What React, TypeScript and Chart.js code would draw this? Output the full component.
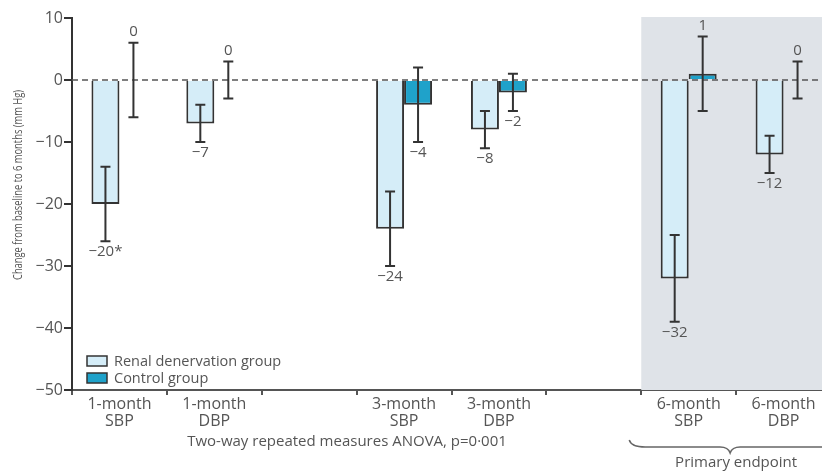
import React, { useEffect, useRef } from "react";
import { Chart, registerables } from "chart.js";

Chart.register(...registerables);

const categories: (string | string[])[] = [
  ["1-month", "SBP"],
  ["1-month", "DBP"],
  "",
  ["3-month", "SBP"],
  ["3-month", "DBP"],
  "",
  ["6-month", "SBP"],
  ["6-month", "DBP"],
];
const renalValues = [-20, -7, null, -24, -8, null, -32, -12];
const renalErrors = [6, 3, null, 6, 3, null, 7, 3];
const renalLabels = ["\u221220*", "\u22127", "", "\u221224", "\u22128", "", "\u221232", "\u221212"];
const controlValues = [0, 0, null, -4, -2, null, 1, 0];
const controlErrors = [6, 3, null, 6, 3, null, 6, 3];
const controlLabels = ["0", "0", "", "\u22124", "\u22122", "", "1", "0"];
const yTicks = [10, 0, -10, -20, -30, -40, -50];
const seriesNames = ["Renal denervation group", "Control group"];
const anovaText = "Two-way repeated measures ANOVA, p=0\u00b7001";
const endpointText = "Primary endpoint";
const yTitle = "Change from baseline to 6 months (mm Hg)";

const FONT = "'Open Sans', sans-serif";
const TEXT = "#555555";
const DARK = "#333333";
const RENAL_FILL = "#d5edf8";
const CONTROL_FILL = "#1fa2ca";
const SHADE = "#dfe3e8";

const decorPlugin = {
  id: "decor",
  beforeDatasetsDraw(chart: any) {
    const { ctx, chartArea, scales } = chart;
    const x = scales.x;
    const start = (x.getPixelForValue(5) + x.getPixelForValue(6)) / 2;
    ctx.save();
    ctx.fillStyle = SHADE;
    ctx.fillRect(start, chartArea.top - 1, chart.width - start, chartArea.bottom - chartArea.top + 1);
    ctx.restore();
  },
  afterDatasetsDraw(chart: any) {
    const { ctx, chartArea, scales } = chart;
    const x = scales.x;
    const y = scales.y;
    ctx.save();
    // zero line
    const y0 = y.getPixelForValue(0);
    ctx.strokeStyle = "#555";
    ctx.lineWidth = 1.5;
    ctx.setLineDash([6, 4]);
    ctx.beginPath();
    ctx.moveTo(chartArea.left, y0);
    ctx.lineTo(chart.width, y0);
    ctx.stroke();
    ctx.setLineDash([]);

    // error bars + labels
    const sets = [
      { vals: renalValues, errs: renalErrors, labels: renalLabels },
      { vals: controlValues, errs: controlErrors, labels: controlLabels },
    ];
    sets.forEach((s, di) => {
      const meta = chart.getDatasetMeta(di);
      s.vals.forEach((v: number | null, i: number) => {
        if (v === null || v === undefined) return;
        const e = s.errs[i] as number;
        const bx = meta.data[i].x;
        const yt = y.getPixelForValue(v + e);
        const yb = y.getPixelForValue(v - e);
        ctx.strokeStyle = DARK;
        ctx.lineWidth = 2;
        ctx.beginPath();
        ctx.moveTo(bx, yt);
        ctx.lineTo(bx, yb);
        ctx.moveTo(bx - 5, yt);
        ctx.lineTo(bx + 5, yt);
        ctx.moveTo(bx - 5, yb);
        ctx.lineTo(bx + 5, yb);
        ctx.stroke();
        ctx.fillStyle = TEXT;
        ctx.font = `15px ${FONT}`;
        ctx.textAlign = "center";
        ctx.textBaseline = "middle";
        if (v < 0) ctx.fillText(s.labels[i], bx, yb + 11);
        else ctx.fillText(s.labels[i], bx, yt - 11);
      });
    });

    // legend
    const colors = [RENAL_FILL, CONTROL_FILL];
    seriesNames.forEach((n, i) => {
      const ly = 356 + i * 17;
      ctx.fillStyle = colors[i];
      ctx.fillRect(87, ly, 20, 10);
      ctx.strokeStyle = DARK;
      ctx.lineWidth = 1.5;
      ctx.strokeRect(87, ly, 20, 10);
      ctx.fillStyle = TEXT;
      ctx.font = `14.5px ${FONT}`;
      ctx.textAlign = "left";
      ctx.textBaseline = "middle";
      ctx.fillText(n, 114, ly + 5.5);
    });

    // y title (condensed)
    ctx.save();
    ctx.translate(19, 185);
    ctx.rotate(-Math.PI / 2);
    ctx.font = `12px ${FONT}`;
    const w = ctx.measureText(yTitle).width;
    ctx.scale(190 / w, 1);
    ctx.fillStyle = TEXT;
    ctx.textAlign = "center";
    ctx.textBaseline = "middle";
    ctx.fillText(yTitle, 0, 0);
    ctx.restore();

    // anova text
    ctx.font = `15px ${FONT}`;
    ctx.fillStyle = TEXT;
    ctx.textAlign = "center";
    ctx.textBaseline = "middle";
    ctx.fillText(anovaText, 347, 442);

    // brace
    const bl = (x.getPixelForValue(5) + x.getPixelForValue(6)) / 2 - 12;
    const bc = (x.getPixelForValue(6) + x.getPixelForValue(7)) / 2 - 6;
    const br = chart.width + 5;
    ctx.strokeStyle = "#666";
    ctx.lineWidth = 1.5;
    ctx.beginPath();
    ctx.moveTo(bl, 440);
    ctx.quadraticCurveTo(bl + 2, 447, bl + 16, 447);
    ctx.lineTo(bc - 10, 447);
    ctx.quadraticCurveTo(bc - 2, 447, bc, 453);
    ctx.quadraticCurveTo(bc + 2, 447, bc + 10, 447);
    ctx.lineTo(br, 447);
    ctx.stroke();
    ctx.fillStyle = TEXT;
    ctx.font = `15px ${FONT}`;
    ctx.fillText(endpointText, bc + 6, 463);
    ctx.restore();
  },
};

export default function App() {
  const ref = useRef<HTMLCanvasElement | null>(null);
  useEffect(() => {
    if (!ref.current) return;
    const chart = new Chart(ref.current, {
      type: "bar",
      data: {
        labels: categories,
        datasets: [
          {
            label: seriesNames[0],
            data: renalValues,
            backgroundColor: RENAL_FILL,
            borderColor: DARK,
            borderWidth: 2,
          },
          {
            label: seriesNames[1],
            data: controlValues,
            backgroundColor: CONTROL_FILL,
            borderColor: DARK,
            borderWidth: 2,
          },
        ],
      },
      options: {
        responsive: false,
        animation: false,
        layout: { padding: { left: 0, top: 18, right: 9, bottom: 0 } },
        plugins: { legend: { display: false }, tooltip: { enabled: false } },
        datasets: { bar: { categoryPercentage: 0.59, barPercentage: 1.0 } },
        scales: {
          x: {
            type: "category",
            grid: {
              drawOnChartArea: false,
              tickLength: 5,
              color: "#555",
              lineWidth: 2,
              offset: true,
            },
            border: { display: true, color: "#555", width: 2 },
            ticks: {
              color: TEXT,
              font: { family: FONT, size: 16, lineHeight: 1.08 },
              padding: 1,
              maxRotation: 0,
              autoSkip: false,
            },
            afterFit: (s: any) => {
              s.height = 81;
            },
          },
          y: {
            min: -50,
            max: 10,
            afterBuildTicks: (s: any) => {
              s.ticks = yTicks.map((v) => ({ value: v }));
            },
            grid: {
              drawOnChartArea: false,
              tickLength: 8,
              color: DARK,
              lineWidth: 2,
            },
            border: { display: true, color: DARK, width: 2 },
            ticks: {
              color: TEXT,
              font: { family: FONT, size: 16 },
              padding: 1,
              callback: (v: any) => (Number(v) < 0 ? "\u2212" + Math.abs(Number(v)) : String(v)),
            },
            afterFit: (s: any) => {
              s.width = 72;
            },
          },
        },
      },
      plugins: [decorPlugin],
    });
    return () => chart.destroy();
  }, []);
  return (
    <div
      style={{
        position: "absolute",
        left: 0,
        top: 0,
        width: 822,
        height: 471,
        overflow: "hidden",
        background: "#fff",
      }}
    >
      <canvas ref={ref} width={840} height={471} style={{ width: 840, height: 471, display: "block" }} />
    </div>
  );
}
